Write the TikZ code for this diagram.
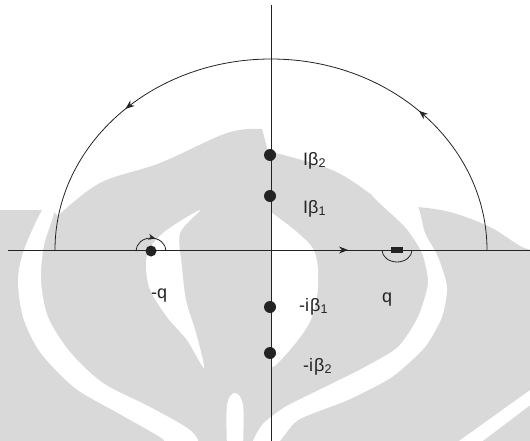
\documentclass[tikz,border=0pt]{standalone}
\usepackage{fontspec}
\setmainfont{Liberation Sans}
\usetikzlibrary{arrows.meta,decorations.markings}
\definecolor{wm}{RGB}{217,217,217}
\definecolor{ink}{RGB}{35,35,35}
\begin{document}
\begin{tikzpicture}[x=1pt,y=-1pt,
  axisline/.style={draw=ink, line width=0.9pt},
  pole/.style={circle, fill=ink, inner sep=0pt, minimum size=12pt},
  cut/.style={rectangle, fill=ink, inner sep=0pt, minimum width=12pt, minimum height=6pt},
  lbl/.style={anchor=base west, inner sep=0pt, font=\fontsize{18}{20}\selectfont, text=ink},
  tipmark/.style={-{Stealth[length=9pt,width=7pt]}}
]
\useasboundingbox (0,0) rectangle (530,441);
% faint watermark
\fill[wm] (0,445) -- (0,210) -- (52,210) -- (58,216)
  -- plot[smooth, tension=0.6] coordinates {(58,216) (100,183) (160,163) (227,133) (262,129)}
  -- (268,151)
  -- plot[smooth, tension=0.6] coordinates {(268,151) (332,170) (375,197) (395,211)}
  -- plot[smooth, tension=0.6] coordinates {(417,207) (450,212) (490,227) (520,246) (533,250)}
  -- (533,445) -- cycle;
\fill[white] plot[smooth cycle, tension=0.5] coordinates {(43,209) (24,250) (18,280) (23,317) (40,352) (75,388) (118,413) (160,437) (170,446) (198,446) (190,430) (150,407) (103,383) (70,352) (48,317) (41,280) (44,245) (54,212)};
\fill[white] plot[smooth cycle, tension=0.5] coordinates {(200,210) (180,233) (182,267) (186,300) (196,333) (204,368) (187,340) (167,317) (149,287) (147,255) (163,233)};
\fill[white] (272,367) -- (272,213)
  -- plot[smooth, tension=0.6] coordinates {(272,213) (298,233) (315,253) (318,287) (312,317) (298,340) (278,363) (272,367)} -- cycle;
\fill[white] plot[smooth cycle, tension=0.4] coordinates {(372,195) (405,227) (422,253) (428,283) (418,317) (398,347) (365,367) (325,387) (285,407) (262,425) (252,446) (275,446) (298,420) (348,400) (392,377) (425,347) (442,317) (447,287) (438,257) (425,233) (417,205) (395,198)};
\fill[white] (452,446) -- (533,388) -- (533,403) -- (476,446) -- cycle;
\fill[white] plot[smooth, tension=0.6] coordinates {(227,446) (227,405) (235,393) (243,405) (243,446)} -- cycle;
% axes
\coordinate (xl) at (8,250);
\coordinate (xr) at (530,250);
\coordinate (yt) at (271,5);
\coordinate (yb) at (271,441);
\draw[axisline, postaction=decorate,
  decoration={markings, mark=at position 340pt with {\arrow{Stealth[length=9pt,width=7pt]}}}]
  (xl) -- (xr);
\draw[axisline] (yt) -- (yb);
% big contour arc
\coordinate (arcR) at (487,250);
\draw[axisline, line width=0.8pt, postaction=decorate,
  decoration={markings,
    mark=at position 0.25 with {\arrow{Stealth[length=9pt,width=7pt]}},
    mark=at position 0.745 with {\arrow{Stealth[length=9pt,width=7pt]}}}]
  (arcR) arc[start angle=0, end angle=180, x radius=216pt, y radius=191pt];
% poles
\node[pole] (b2) at (270,155) {};
\node[pole] (b1) at (270,196) {};
\node[pole] (mb1) at (270,307) {};
\node[pole] (mb2) at (270,353) {};
\node[pole, minimum size=11pt] (mq) at (151,251) {};
\node[cut] (pq) at (397,250) {};
% indentations
\draw[axisline, line width=0.8pt, postaction=decorate,
  decoration={markings, mark=at position 0.6 with {\arrow{Stealth[length=7pt,width=6pt]}}}]
  ([xshift=-15pt]mq.center) arc[start angle=180, end angle=0, x radius=15pt, y radius=13pt];
\draw[axisline, line width=0.8pt]
  ([xshift=-15pt]pq.center) arc[start angle=180, end angle=360, x radius=15pt, y radius=12pt];
% labels
\node[lbl] (tb2) at (303,165) {Iβ\textsubscript{2}};
\node[lbl] (tb1) at (303,213) {Iβ\textsubscript{1}};
\node[lbl] (tmb1) at (299,311) {-i\kern1ptβ\textsubscript{1}};
\node[lbl] (tmb2) at (303,371) {-i\kern1ptβ\textsubscript{2}};
\node[lbl] (tmq) at (151,298) {-q};
\node[lbl] (tq) at (382,302) {q};
\end{tikzpicture}
\end{document}
